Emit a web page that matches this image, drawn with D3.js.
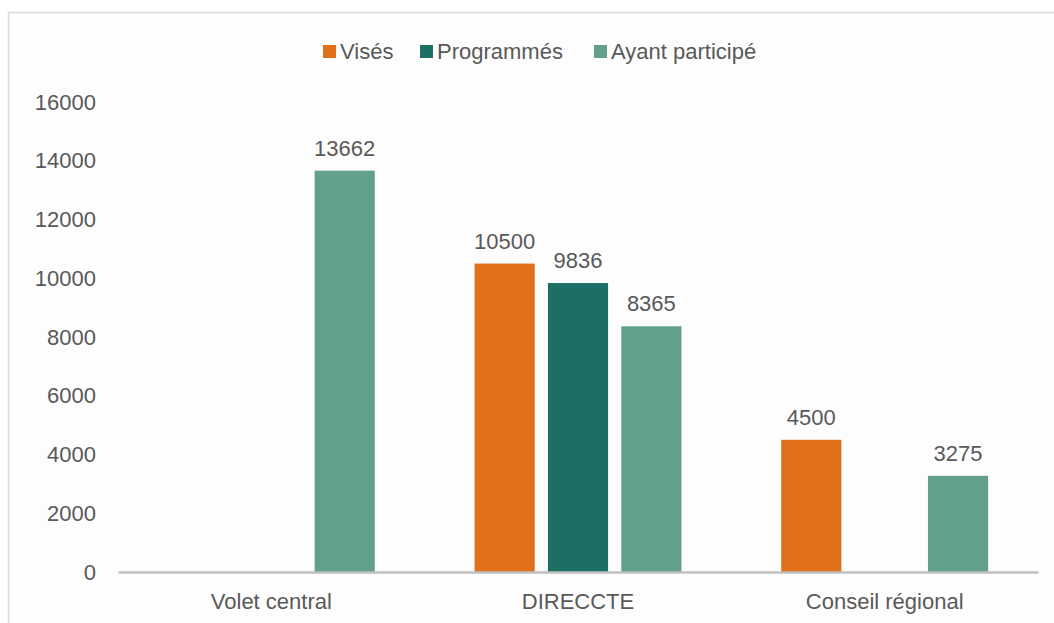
<!DOCTYPE html>
<html>
<head>
<meta charset="utf-8">
<script src="https://cdn.jsdelivr.net/npm/d3@7"></script>
<style>
  body { margin: 0; background: #fff; }
  text { font-family: "Liberation Sans", Arial, sans-serif; fill: #595959; }
</style>
</head>
<body>
<div id="chart"></div>
<script>
// data
const categories = ["Volet central", "DIRECCTE", "Conseil régional"];
const series = ["Visés", "Programmés", "Ayant participé"];
const vises = [null, 10500, 4500];
const programmes = [null, 9836, null];
const ayantParticipe = [13662, 8365, 3275];
const yTicks = [0, 2000, 4000, 6000, 8000, 10000, 12000, 14000, 16000];
const colors = ["#E07019", "#1D6E64", "#62A08A"];

const values = [vises, programmes, ayantParticipe];

const width = 1054, height = 623;
const margin = { top: 102, right: 16, bottom: 51, left: 118 };
const innerW = width - margin.left - margin.right;
const innerH = height - margin.top - margin.bottom;
const fontSize = "22px";

const svg = d3.select("#chart")
    .append("svg")
    .attr("width", width)
    .attr("height", height);

// frame
svg.append("rect")
    .attr("x", 8.5)
    .attr("y", 12.5)
    .attr("width", width + 20)
    .attr("height", height + 20)
    .attr("fill", "#fdfdfd")
    .attr("stroke", "#d9d9d9")
    .attr("stroke-width", 1.5);

const g = svg.append("g")
    .attr("transform", `translate(${margin.left},${margin.top})`);

const x0 = d3.scaleBand()
    .domain(categories)
    .range([0, innerW])
    .padding(0);

const x1 = d3.scaleBand()
    .domain(series)
    .range([0, x0.bandwidth()])
    .paddingInner(0.18)
    .paddingOuter(0.68);

const y = d3.scaleLinear()
    .domain([0, 16000])
    .range([innerH, 0]);

// y tick labels (no axis line)
const yAxis = g.append("g")
    .call(d3.axisLeft(y).tickValues(yTicks).tickFormat(d3.format("d")).tickSize(0).tickPadding(22));
yAxis.select(".domain").remove();
yAxis.selectAll("text")
    .style("font-size", fontSize)
    .style("fill", "#595959")
    .style("font-family", "Liberation Sans, Arial, sans-serif");

// bars
const rows = [];
categories.forEach((c, i) => {
    series.forEach((s, j) => {
        if (values[j][i] != null) rows.push({ cat: c, ser: s, val: values[j][i], idx: j });
    });
});

const cell = g.selectAll(".bar")
    .data(rows)
    .enter().append("g")
    .attr("class", "bar");

cell.append("rect")
    .attr("x", d => x0(d.cat) + x1(d.ser))
    .attr("y", d => y(d.val))
    .attr("width", x1.bandwidth())
    .attr("height", d => innerH - y(d.val))
    .attr("fill", d => colors[d.idx]);

cell.append("text")
    .attr("x", d => x0(d.cat) + x1(d.ser) + x1.bandwidth() / 2)
    .attr("y", d => y(d.val) - 15)
    .attr("text-anchor", "middle")
    .style("font-size", fontSize)
    .text(d => d.val);

// x axis
const xAxis = g.append("g")
    .attr("transform", `translate(0,${innerH})`)
    .call(d3.axisBottom(x0).tickSize(0).tickPadding(21));
xAxis.select(".domain")
    .attr("stroke", "#bfbfbf")
    .attr("stroke-width", 2.5);
xAxis.selectAll("text")
    .style("font-size", fontSize)
    .style("fill", "#595959")
    .style("font-family", "Liberation Sans, Arial, sans-serif");

// legend
const legendX = [323, 420, 594];
const legend = svg.append("g");
series.forEach((s, j) => {
    legend.append("rect")
        .attr("x", legendX[j])
        .attr("y", 45)
        .attr("width", 13)
        .attr("height", 13)
        .attr("fill", colors[j]);
    legend.append("text")
        .attr("x", legendX[j] + 17)
        .attr("y", 59)
        .style("font-size", fontSize)
        .text(s);
});
</script>
</body>
</html>
